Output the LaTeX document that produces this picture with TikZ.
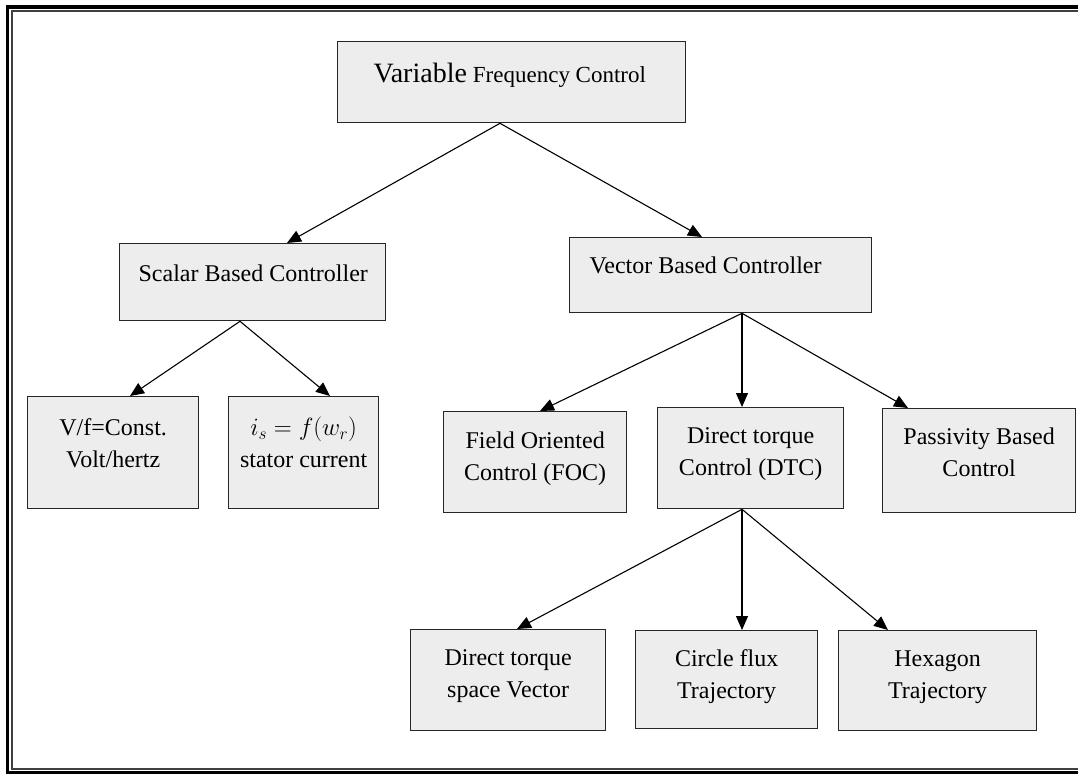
\documentclass[tikz,border=0pt]{standalone}
\usepackage{fontspec}
\setmainfont{Liberation Serif}
\usetikzlibrary{arrows.meta}
\definecolor{fuell}{HTML}{EDEDED}
\definecolor{rand}{HTML}{262626}

\begin{document}
\begin{tikzpicture}[
      x=1pt, y=-1pt,
      kasten/.style={draw=rand, line width=1.3pt, fill=fuell, inner sep=0pt,
        anchor=north west, text height=36pt, font=\fontsize{24}{32}\selectfont},
      pfeil/.style={-{Triangle[length=14pt,width=12pt]}, black, line width=1.1pt},
      rahmen/.style={draw=black, line width=3.5pt},
      innenrahmen/.style={draw=black!75, line width=1.2pt}
    ]
    \def\zentriert#1#2{\parbox[t]{#1pt}{\centering #2}}
    \def\links#1#2#3{\parbox[t]{#1pt}{\hspace*{#2pt}#3}}

    \useasboundingbox (0,0) rectangle (1078,774);
    \clip (0,0) rectangle (1078,774);

    % ---------- Rahmen (rechts abgeschnitten) ----------
    \draw[rahmen] (7.5,6.8) rectangle (1100,772.5);
    \draw[innenrahmen] (12,11) rectangle (1100,769);

    % ---------- Ebene 1 ----------
    \node[kasten, text height=41pt, text depth=40pt] (vfc) at (337,41)
      {\links{348}{36}{{\fontsize{28}{30}\selectfont Variable}
        {\fontsize{23}{30}\selectfont Frequency Control}}};

    % ---------- Ebene 2 ----------
    \node[kasten, text height=38pt, text depth=39pt] (scalar) at (119,243)
      {\links{266}{19}{Scalar Based Controller}};
    \node[kasten, text height=36pt, text depth=39pt] (vector) at (569,237)
      {\links{302}{20}{Vector Based Controller}};

    % ---------- Ebene 3 ----------
    \node[kasten, text height=39pt, text depth=73pt] (vf) at (27,396)
      {\zentriert{171}{V/f=Const.\\Volt/hertz}};
    \node[kasten, text height=39pt, text depth=73pt] (is) at (228,396)
      {\zentriert{150}{$i_s = f(w_r)$\\stator current}};
    \node[kasten, text height=37pt, text depth=64pt] (foc) at (443,411)
      {\zentriert{183}{Field Oriented\\Control (FOC)}};
    \node[kasten, text depth=65pt] (dtc) at (657,407)
      {\zentriert{186}{Direct torque\\Control (DTC)}};
    \node[kasten, text depth=68pt] (pbc) at (882,408)
      {\zentriert{193}{Passivity Based\\Control}};

    % ---------- Ebene 4 ----------
    \node[kasten, text depth=65pt] (dtsv) at (410,629)
      {\zentriert{195}{Direct torque\\space Vector}};
    \node[kasten, text depth=62pt] (cft) at (635,630)
      {\zentriert{182}{Circle flux\\Trajectory}};
    \node[kasten, text depth=64pt] (hex) at (838,630)
      {\zentriert{198}{Hexagon\\Trajectory}};

    % ---------- Verbindungen ----------
    \draw[pfeil] ([xshift=163pt]vfc.south west) -- ([xshift=168pt]scalar.north west);
    \draw[pfeil] ([xshift=163pt]vfc.south west) -- ([xshift=133pt]vector.north west);
    \draw[pfeil] ([xshift=121pt]scalar.south west) -- ([xshift=103pt]vf.north west);
    \draw[pfeil] ([xshift=121pt]scalar.south west) -- ([xshift=102pt]is.north west);
    \foreach \ziel/\dx in {foc/97, dtc/85, pbc/26}{
      \draw[pfeil] ([xshift=173pt]vector.south west) -- ([xshift=\dx pt]\ziel.north west);
    }
    \foreach \ziel/\dx in {dtsv/107, cft/107, hex/50}{
      \draw[pfeil] ([xshift=85pt]dtc.south west) -- ([xshift=\dx pt]\ziel.north west);
    }
  \end{tikzpicture}
\end{document}
